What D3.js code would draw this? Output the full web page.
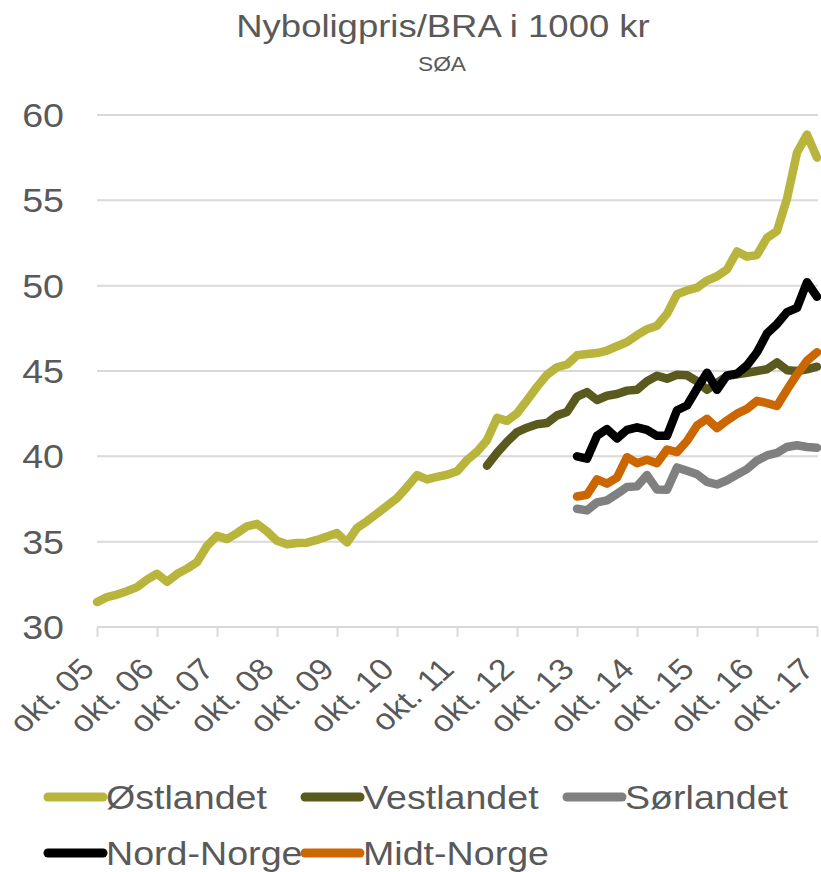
<!DOCTYPE html>
<html>
<head>
<meta charset="utf-8">
<script src="https://cdn.jsdelivr.net/npm/d3@7"></script>
<style>
  body { margin: 0; background: #fff; }
  text { font-family: "Liberation Sans", Arial, sans-serif; fill: #595959; }
</style>
</head>
<body>
<div class="chart"></div>
<script>
var svgWidth = 821;
var svgHeight = 872;

// month offsets counted from okt. 05, values every second month
var tickMonths = [0, 12, 24, 36, 48, 60, 72, 84, 96, 108, 120, 132, 144];
var tickLabels = ["okt. 05", "okt. 06", "okt. 07", "okt. 08", "okt. 09", "okt. 10",
  "okt. 11", "okt. 12", "okt. 13", "okt. 14", "okt. 15", "okt. 16", "okt. 17"];
var yTicks = [30, 35, 40, 45, 50, 55, 60];

var seriesNames = ["Østlandet", "Vestlandet", "Sørlandet", "Nord-Norge", "Midt-Norge"];
var seriesColors = ["#b8b43c", "#5a5a1e", "#808080", "#000000", "#cc6600"];
var seriesStart = [0, 78, 96, 96, 96];

var ostlandet = [31.46, 31.75, 31.9, 32.1, 32.34, 32.78, 33.12, 32.65, 33.1, 33.42,
  33.8, 34.75, 35.35, 35.15, 35.5, 35.9, 36.05, 35.6, 35.05, 34.85,
  34.92, 34.94, 35.1, 35.3, 35.5, 34.95, 35.8, 36.2, 36.65, 37.1,
  37.55, 38.2, 38.9, 38.65, 38.8, 38.92, 39.12, 39.78, 40.27, 40.95,
  42.25, 42.08, 42.52, 43.28, 44.07, 44.78, 45.22, 45.38, 45.92, 46.0,
  46.05, 46.2, 46.45, 46.7, 47.1, 47.45, 47.65, 48.35, 49.5, 49.72,
  49.88, 50.3, 50.55, 50.95, 52.0, 51.7, 51.8, 52.8, 53.2, 55.1,
  57.8, 58.85, 57.5];
var vestlandet = [39.45, 40.2, 40.85, 41.42, 41.68, 41.88, 41.95, 42.4, 42.6, 43.5,
  43.76, 43.3, 43.55, 43.65, 43.85, 43.9, 44.4, 44.72, 44.55, 44.78,
  44.75, 44.4, 43.9, 44.3, 44.7, 44.8, 44.9, 45.0, 45.1, 45.5,
  45.05, 45.0, 45.1, 45.25];
var sorlandet = [36.93, 36.83, 37.3, 37.42, 37.8, 38.2, 38.24, 38.9, 38.05, 38.04,
  39.35, 39.15, 38.95, 38.5, 38.35, 38.6, 38.93, 39.25, 39.75, 40.05,
  40.2, 40.55, 40.65, 40.55, 40.5];
var nordNorge = [40.0, 39.86, 41.2, 41.6, 41.05, 41.55, 41.7, 41.55, 41.2, 41.2,
  42.7, 42.98, 43.96, 44.9, 43.9, 44.74, 44.84, 45.33, 46.1, 47.2,
  47.75, 48.45, 48.7, 50.2, 49.35];
var midtNorge = [37.65, 37.75, 38.65, 38.4, 38.75, 39.95, 39.6, 39.8, 39.6, 40.4,
  40.25, 40.9, 41.8, 42.2, 41.65, 42.1, 42.5, 42.78, 43.25, 43.12,
  42.95, 43.9, 44.8, 45.6, 46.1];

var seriesValues = [ostlandet, vestlandet, sorlandet, nordNorge, midtNorge];

// the reference is stretched sideways, text follows that
var sx = 1.14;

var svg = d3.select(".chart")
  .append("svg")
  .attr("width", svgWidth)
  .attr("height", svgHeight);

var x = d3.scaleLinear().domain([0, 144]).range([97, 817]);
var y = d3.scaleLinear().domain([30, 60]).range([627, 115]);

// title
svg.append("text")
  .attr("transform", `translate(443, 37) scale(${sx},1)`)
  .attr("text-anchor", "middle")
  .style("font-size", "32px")
  .text("Nyboligpris/BRA i 1000 kr");

svg.append("text")
  .attr("transform", `translate(442, 71) scale(${sx},1)`)
  .attr("text-anchor", "middle")
  .style("font-size", "20px")
  .text("SØA");

// gridlines
svg.append("g")
  .selectAll("line")
  .data(yTicks.filter(d => d > 30))
  .enter()
  .append("line")
  .attr("x1", 97)
  .attr("x2", 818)
  .attr("y1", d => y(d))
  .attr("y2", d => y(d))
  .attr("stroke", "#d9d9d9")
  .attr("stroke-width", 2);

// y labels
svg.append("g")
  .selectAll("text")
  .data(yTicks)
  .enter()
  .append("text")
  .attr("transform", d => `translate(64, ${y(d)}) scale(${sx},1)`)
  .attr("text-anchor", "end")
  .attr("dy", "0.36em")
  .style("font-size", "33px")
  .text(d => d);

// x axis
var bottomAxis = d3.axisBottom(x)
  .tickValues(tickMonths)
  .tickSize(10)
  .tickFormat("");

var xAxis = svg.append("g")
  .attr("transform", `translate(0, ${y(30)})`)
  .call(bottomAxis);
xAxis.select(".domain").attr("stroke", "#d9d9d9").attr("stroke-width", 2)
  .attr("d", `M${x(0)},0H818`);
xAxis.selectAll(".tick line").attr("stroke", "#d9d9d9").attr("stroke-width", 2);

svg.append("g")
  .selectAll("text")
  .data(tickMonths)
  .enter()
  .append("text")
  .attr("transform", (d, i) => `translate(${x(d) - 1}, ${y(30) + 44}) scale(${sx},1) rotate(-45)`)
  .attr("text-anchor", "end")
  .style("font-size", "30px")
  .text((d, i) => tickLabels[i]);

// lines
var line = d3.line()
  .x(d => x(d.m))
  .y(d => y(d.v));

seriesNames.forEach(function(name, s) {
  var pts = seriesValues[s].map((v, i) => ({ m: seriesStart[s] + 2 * i, v: v }));
  svg.append("path")
    .datum(pts)
    .attr("d", line)
    .attr("fill", "none")
    .attr("stroke", seriesColors[s])
    .attr("stroke-width", 8.5)
    .attr("stroke-linejoin", "round")
    .attr("stroke-linecap", "round");
});

// legend
var legendPos = [
  { x: 48, y: 797 }, { x: 305, y: 797 }, { x: 567, y: 797 },
  { x: 48, y: 853 }, { x: 305, y: 853 }
];

var legend = svg.append("g")
  .selectAll("g")
  .data(seriesNames)
  .enter()
  .append("g")
  .attr("transform", (d, i) => `translate(${legendPos[i].x}, ${legendPos[i].y})`);

legend.append("line")
  .attr("x1", 0)
  .attr("x2", 55)
  .attr("stroke", (d, i) => seriesColors[i])
  .attr("stroke-width", 9)
  .attr("stroke-linecap", "round");

legend.append("text")
  .attr("transform", `translate(58, 12) scale(${sx},1)`)
  .style("font-size", "33px")
  .text(d => d);
</script>
</body>
</html>
